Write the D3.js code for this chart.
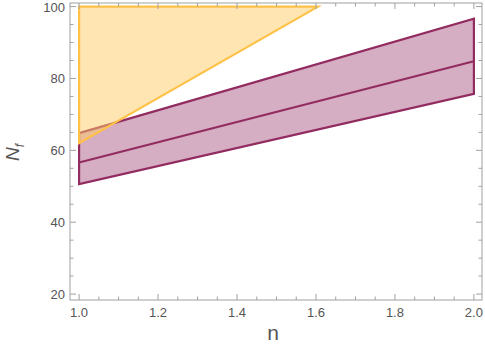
<!DOCTYPE html>
<html><head><meta charset="utf-8">
<script src="https://cdn.jsdelivr.net/npm/d3@7"></script>
<style>body{margin:0;background:#fff}svg{display:block}</style>
</head><body><svg id="c" width="485" height="346"></svg>
<script>
// Data
const xTicks = [1.0, 1.2, 1.4, 1.6, 1.8, 2.0];
const yTicks = [20, 40, 60, 80, 100];
const bandX = [1.0, 2.0];
const bandUpper = [64.8, 96.6];
const bandMiddle = [56.6, 84.8];
const bandLower = [50.6, 75.7];
const triX = [1.0, 1.605, 1.0];
const triY = [100, 100, 62.0];

const svg = d3.select("#c");
const L = 70, R = 482, T = 3, B = 300;
const x = d3.scaleLinear().domain([0.977, 2.0205]).range([L, R]);
const y = d3.scaleLinear().domain([18.35, 101]).range([B, T]);

const g = svg.append("g");
g.append("defs").append("clipPath").attr("id","clip")
  .append("rect").attr("x",L).attr("y",T).attr("width",R-L).attr("height",B-T);
const plot = g.append("g").attr("clip-path","url(#clip)");

// purple band
const purple = "#922b60";
const bandPts = bandX.map((v,i)=>[x(v), y(bandUpper[i])])
  .concat(bandX.slice().reverse().map((v,i)=>[x(v), y(bandLower[bandX.length-1-i])]));
plot.append("path").attr("d", d3.line()(bandPts) + "Z")
  .attr("fill", purple).attr("fill-opacity", 0.38)
  .attr("stroke", purple).attr("stroke-width", 2.2).attr("stroke-linejoin","miter");
plot.append("path").attr("d", d3.line()(bandX.map((v,i)=>[x(v), y(bandMiddle[i])])))
  .attr("fill","none").attr("stroke", purple).attr("stroke-width", 2.2);

// yellow triangle
const triPts = triX.map((v,i)=>[x(v), y(triY[i])]);
plot.append("path").attr("d", d3.line()(triPts) + "Z")
  .attr("fill", "#ffcc66").attr("fill-opacity", 0.5)
  .attr("stroke", "#ffc247").attr("stroke-width", 2.2).attr("stroke-linejoin","miter");

// frame
const axisCol = "#a0a0a0";
g.append("rect").attr("x",L).attr("y",T).attr("width",R-L).attr("height",B-T)
  .attr("fill","none").attr("stroke",axisCol).attr("stroke-width",1);

const minorX = d3.range(0, 22).map(i => 0.95 + i*0.05).filter(v => v > 0.977 && v < 2.02 && Math.abs(v*5 - Math.round(v*5)) > 1e-6);
const minorY = d3.range(20, 101, 5).filter(v => v % 20 !== 0);

function ticks(vals, len, isX) {
  vals.forEach(v => {
    if (isX) {
      const px = x(v);
      g.append("line").attr("x1",px).attr("x2",px).attr("y1",B).attr("y2",B-len).attr("stroke",axisCol);
      g.append("line").attr("x1",px).attr("x2",px).attr("y1",T).attr("y2",T+len).attr("stroke",axisCol);
    } else {
      const py = y(v);
      g.append("line").attr("x1",L).attr("x2",L+len).attr("y1",py).attr("y2",py).attr("stroke",axisCol);
      g.append("line").attr("x1",R).attr("x2",R-len).attr("y1",py).attr("y2",py).attr("stroke",axisCol);
    }
  });
}
ticks(xTicks, 6, true);
ticks(minorX, 3.5, true);
ticks(yTicks, 6, false);
ticks(minorY, 3.5, false);

const fmtX = d3.format(".1f");
xTicks.forEach(v => {
  g.append("text").attr("x", x(v)).attr("y", B+17).attr("text-anchor","middle")
    .attr("font-family","Liberation Sans, Arial, sans-serif").attr("font-size",13).attr("fill","#555")
    .text(fmtX(v));
});
yTicks.forEach(v => {
  g.append("text").attr("x", L-5).attr("y", y(v)+5).attr("text-anchor","end")
    .attr("font-family","Liberation Sans, Arial, sans-serif").attr("font-size",13).attr("fill","#555")
    .text(v);
});

// axis labels
g.append("text").attr("x", 273).attr("y", 340).attr("text-anchor","middle")
  .attr("font-family","Liberation Sans, Arial, sans-serif").attr("font-size",21).attr("fill","#555").text("n");
const yl = g.append("text").attr("transform","translate(19,161) rotate(-90)")
  .attr("font-family","Liberation Sans, Arial, sans-serif").attr("font-size",19).attr("fill","#555").attr("font-style","italic");
yl.append("tspan").text("N");
yl.append("tspan").attr("font-size",12).attr("dy",5).text("f");
</script></body></html>
